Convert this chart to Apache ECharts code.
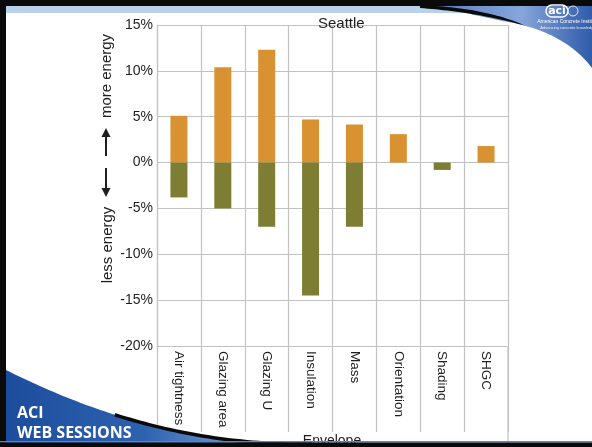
<!DOCTYPE html>
<html>
<head>
<meta charset="utf-8">
<script src="https://cdn.jsdelivr.net/npm/echarts@6/dist/echarts.min.js"></script>
<style>
  html, body { margin: 0; padding: 0; background: #fff; }
  #chart { width: 592px; height: 447px; }
</style>
</head>
<body>
<div id="chart"></div>
<script>
// Envelope measures: change in energy use for Seattle (percent)
const groupName = 'Envelope';
const categories = ['Air tightness', 'Glazing area', 'Glazing U', 'Insulation', 'Mass', 'Orientation', 'Shading', 'SHGC'];
const moreEnergy = [5.1, 10.4, 12.3, 4.7, 4.15, 3.1, '-', 1.8];
const lessEnergy = [-3.8, -5.0, -7.0, -14.5, -7.0, '-', -0.8, '-'];
const yTicks = { min: -20, max: 15, step: 5 };

const ORANGE = '#d99231';
const OLIVE = '#7d7d33';
const GRID = '#c2c2c2';
const INK = '#1e1e1e';

const chart = echarts.init(document.getElementById('chart'), null, { renderer: 'canvas' });

const blueSweep = (stops) => ({ type: 'linear', x: 0, y: 0, x2: 1, y2: 0, colorStops: stops });

// sample a cubic Bezier into polygon points for the banner outlines
function cubic(p0, p1, p2, p3, n) {
  const pts = [];
  for (let i = 0; i <= n; i++) {
    const t = i / n, u = 1 - t;
    pts.push([
      u * u * u * p0[0] + 3 * u * u * t * p1[0] + 3 * u * t * t * p2[0] + t * t * t * p3[0],
      u * u * u * p0[1] + 3 * u * u * t * p1[1] + 3 * u * t * t * p2[1] + t * t * t * p3[1]
    ]);
  }
  return pts;
}

// top-right sweep
const topEdge = cubic([592, 68], [575, 45], [545, 28], [508, 22], 30)
  .concat(cubic([508, 22], [485, 18], [462, 11], [436, 8], 30).slice(1));
const topSweep = [[436, 5], [592, 5]].concat(topEdge);
const topStroke = cubic([420, 5], [460, 7], [495, 12], [526, 26], 30)
  .concat(cubic([526, 26], [495, 17], [460, 11], [420, 8], 30).slice(1));

// lower-left sweep
const lowCurve = cubic([6, 370], [90, 412], [190, 446], [312, 444], 60);
const lowSweep = lowCurve.concat([[6, 444]]);
const lowStroke = lowCurve.filter(p => p[0] >= 110);

chart.setOption({
  animation: false,
  backgroundColor: '#fff',
  title: {
    text: 'Seattle',
    left: 313, top: 11,
    textStyle: { fontFamily: 'Liberation Sans, Arial', fontSize: 15, fontWeight: 'normal', color: INK }
  },
  grid: { left: 157, right: 84, top: 25, bottom: 101, outerBoundsMode: 'none', containLabel: false },
  xAxis: {
    type: 'category',
    data: categories,
    position: 'bottom',
    axisLine: { onZero: false, lineStyle: { color: GRID, width: 1.2 } },
    axisTick: { show: true, interval: 0, length: 86, lineStyle: { color: GRID, width: 1.2 } },
    splitLine: { show: true, interval: 0, lineStyle: { color: GRID, width: 1.2 } },
    axisLabel: {
      interval: 0, rotate: -90, margin: 5,
      fontFamily: 'Liberation Sans, Arial', fontSize: 13.5, color: INK
    }
  },
  yAxis: {
    type: 'value',
    min: yTicks.min, max: yTicks.max, interval: yTicks.step,
    axisLine: { show: true, lineStyle: { color: GRID, width: 1.2 } },
    axisTick: { show: false },
    splitLine: { lineStyle: { color: GRID, width: 1.2 } },
    axisLabel: {
      margin: 4, formatter: '{value}%',
      fontFamily: 'Liberation Sans, Arial', fontSize: 14, color: INK
    }
  },
  series: [
    {
      name: 'more energy', type: 'bar', stack: 'change', barWidth: 17,
      itemStyle: { color: ORANGE }, data: moreEnergy
    },
    {
      name: 'less energy', type: 'bar', stack: 'change', barWidth: 17,
      itemStyle: { color: OLIVE }, data: lessEnergy
    }
  ],
  graphic: [
    // vertical axis caption with direction arrows
    { type: 'text', x: 107, y: 76, rotation: Math.PI / 2,
      style: { text: 'more energy', font: '15px "Liberation Sans", Arial', fill: INK, textAlign: 'center', textVerticalAlign: 'middle' } },
    { type: 'text', x: 108, y: 245, rotation: Math.PI / 2,
      style: { text: 'less energy', font: '15px "Liberation Sans", Arial', fill: INK, textAlign: 'center', textVerticalAlign: 'middle' } },
    { type: 'line', shape: { x1: 106, y1: 135, x2: 106, y2: 156 }, style: { stroke: INK, lineWidth: 2 } },
    { type: 'polygon', shape: { points: [[101.5, 137], [110.5, 137], [106, 128]] }, style: { fill: INK } },
    { type: 'line', shape: { x1: 106, y1: 168, x2: 106, y2: 190 }, style: { stroke: INK, lineWidth: 2 } },
    { type: 'polygon', shape: { points: [[101.5, 188], [110.5, 188], [106, 197]] }, style: { fill: INK } },

    // group caption under the category labels
    { type: 'text', z: 50, x: 332, y: 434,
      style: { text: groupName, font: '14px "Liberation Sans", Arial', fill: INK, textAlign: 'center', textVerticalAlign: 'top' } },

    // right edge of the category band runs down to the slide border
    { type: 'line', shape: { x1: 508, y1: 346, x2: 508, y2: 443 }, style: { stroke: GRID, lineWidth: 1.2 } },

    // slide frame
    { type: 'rect', z: 100, shape: { x: 6, y: 6, width: 460, height: 7 }, style: { fill: '#b9d1ea' } },
    { type: 'polygon', z: 101, shape: { points: topSweep },
      style: { fill: blueSweep([{ offset: 0, color: '#5d80c2' }, { offset: 0.55, color: '#86a5da' }, { offset: 1, color: '#2f5ba8' }]) } },
    { type: 'polygon', z: 102, shape: { points: topStroke }, style: { fill: '#0a0a0a' } },
    { type: 'rect', z: 103, shape: { x: 0, y: 0, width: 592, height: 6 }, style: { fill: '#0a0a0a' } },
    { type: 'rect', z: 103, shape: { x: 0, y: 0, width: 6, height: 447 }, style: { fill: '#0a0a0a' } },

    // institute mark
    { type: 'rect', z: 104, shape: { x: 546, y: 5, width: 22, height: 12, r: 6 }, style: { fill: 'none', stroke: '#fff', lineWidth: 1.5 } },
    { type: 'text', z: 105, x: 557, y: 11,
      style: { text: 'aci', font: 'bold 11px "DejaVu Sans", Arial', fill: '#fff', textAlign: 'center', textVerticalAlign: 'middle' } },
    { type: 'circle', z: 104, shape: { cx: 573, cy: 11, r: 5 }, style: { fill: 'none', stroke: '#dfe8f6', lineWidth: 1 } },
    { type: 'text', z: 105, x: 568, y: 22,
      style: { text: 'American Concrete Institute', font: '5px "Liberation Sans", Arial', fill: '#fff', textAlign: 'center', textVerticalAlign: 'middle' } },
    { type: 'text', z: 105, x: 568, y: 28,
      style: { text: 'Advancing concrete knowledge', font: '4px "Liberation Sans", Arial', fill: '#e6eefa', textAlign: 'center', textVerticalAlign: 'middle' } },

    // lower-left session banner
    { type: 'polygon', z: 101, shape: { points: lowSweep },
      style: { fill: blueSweep([{ offset: 0, color: '#1c4d9c' }, { offset: 0.45, color: '#2d62b0' }, { offset: 0.8, color: '#7c9fd6' }, { offset: 1, color: '#a9c0e6' }]) } },
    { type: 'polyline', z: 102, shape: { points: lowStroke },
      style: { stroke: '#0a0a0a', lineWidth: 3.5, fill: null } },
    { type: 'text', z: 105, x: 17, y: 421,
      style: { text: 'ACI', font: 'bold 16px "Open Sans", Arial', fill: '#fff', textVerticalAlign: 'bottom' } },
    { type: 'text', z: 105, x: 17, y: 441,
      style: { text: 'WEB SESSIONS', font: 'bold 16px "Open Sans", Arial', fill: '#fff', textVerticalAlign: 'bottom' } },
    { type: 'rect', z: 103, shape: { x: 0, y: 441, width: 592, height: 1.5 }, style: { fill: '#5b86c6' } },
    { type: 'rect', z: 103, shape: { x: 0, y: 442.5, width: 592, height: 5 }, style: { fill: '#0a0a0a' } }
  ]
});
</script>
</body>
</html>
